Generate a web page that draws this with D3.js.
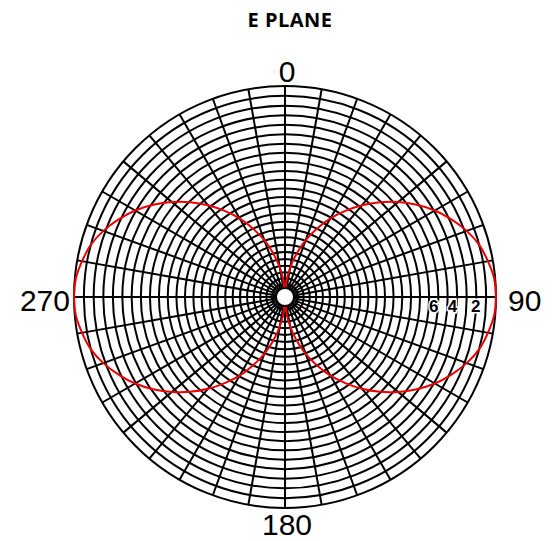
<!DOCTYPE html>
<html>
<head>
<meta charset="utf-8">
<script src="https://cdn.jsdelivr.net/npm/d3@7"></script>
<style>
  html, body { margin: 0; padding: 0; background: #fff; }
  svg { display: block; }
</style>
</head>
<body>
<svg id="chart" width="558" height="541"></svg>
<script>
// ──────────────  data

const TITLE = 'E PLANE';

// compass labels (degrees, clockwise from top)
const compassAngles = [0, 90, 180, 270];
const compassLabels = ['0', '90', '180', '270'];

// grid: rings every 1 dB, spokes every 10°
const ringDb = d3.range(0, -25, -1);
const spokeAngles = d3.range(0, 360, 10);

// scale labels printed along the 90° spoke
const scaleTickDb = [-2, -4, -6];
const scaleTickLabels = ['2', '4', '6'];

// E-plane pattern, relative gain in dB, every 5°
const patternAngles = d3.range(0, 360, 5);
const patternDb = [
  -27, -23.6, -21.2, -19.0, -16.9, -15.0, -13.1, -11.4, -9.7, -8.1,
  -6.6, -5.2, -3.9, -2.8, -1.8, -1.0, -0.5, -0.1,
  0,
  -0.1, -0.5, -1.0, -1.8, -2.8, -3.9, -5.2, -6.6, -8.1, -9.7,
  -11.4, -13.1, -15.0, -16.9, -19.0, -21.2, -23.6,
  -27, -23.6, -21.2, -19.0, -16.9, -15.0, -13.1, -11.4, -9.7, -8.1,
  -6.6, -5.2, -3.9, -2.8, -1.8, -1.0, -0.5, -0.1,
  0,
  -0.1, -0.5, -1.0, -1.8, -2.8, -3.9, -5.2, -6.6, -8.1, -9.7,
  -11.4, -13.1, -15.0, -16.9, -19.0, -21.2, -23.6
];

// ──────────────  layout

const CX = 285, CY = 297, R = 211;
const DB_FLOOR = -27;
const HOLE = 9;

const svg = d3.select('#chart');
const g = svg.append('g').attr('transform', `translate(${CX},${CY})`);

// radial scale: dB -> pixels, mildly compressed toward the centre
const rScale = d3.scalePow().exponent(1.27)
  .domain([0, -DB_FLOOR]).range([0, R]).clamp(true);
const r = db => rScale(db - DB_FLOOR);
const rad = deg => deg * Math.PI / 180;

// ──────────────  grid

g.append('g').attr('class', 'rings')
  .selectAll('circle')
  .data(ringDb)
  .join('circle')
  .attr('r', d => r(d))
  .attr('fill', 'none')
  .attr('stroke', '#000')
  .attr('stroke-width', 2);

g.append('g').attr('class', 'spokes')
  .selectAll('line')
  .data(spokeAngles)
  .join('line')
  .attr('x1', d => HOLE * Math.sin(rad(d)))
  .attr('y1', d => -HOLE * Math.cos(rad(d)))
  .attr('x2', d => r(0) * Math.sin(rad(d)))
  .attr('y2', d => -r(0) * Math.cos(rad(d)))
  .attr('stroke', '#000')
  .attr('stroke-width', 2);

// ──────────────  pattern

const line = d3.lineRadial()
  .angle((d, i) => rad(patternAngles[i]))
  .radius(d => r(d))
  .curve(d3.curveCatmullRomClosed);

g.append('path')
  .datum(patternDb)
  .attr('d', line)
  .attr('fill', 'none')
  .attr('stroke', '#ee0000')
  .attr('stroke-width', 2);

// centre hole
g.append('circle')
  .attr('r', HOLE)
  .attr('fill', '#fff')
  .attr('stroke', '#000')
  .attr('stroke-width', 2);

// ──────────────  labels

g.append('g').attr('class', 'scale-ticks')
  .selectAll('text')
  .data(scaleTickDb)
  .join('text')
  .attr('x', d => r(d) + (d === -2 ? 4 : 0))
  .attr('y', 15)
  .attr('text-anchor', 'end')
  .attr('font-family', 'Liberation Sans, Arial, sans-serif')
  .attr('font-weight', 'bold')
  .attr('font-size', 17)
  .attr('fill', '#000')
  .attr('stroke', '#fff')
  .attr('stroke-width', 3)
  .attr('paint-order', 'stroke')
  .text((d, i) => scaleTickLabels[i]);

const compassPos = {
  0:   { dx: 2,      dy: -R - 4,  anchor: 'middle' },
  90:  { dx: R + 12, dy: 14,      anchor: 'start' },
  180: { dx: 2,      dy: R + 27,  anchor: 'middle' },
  270: { dx: -R - 4, dy: 14,      anchor: 'end' },
};

g.append('g').attr('class', 'compass')
  .selectAll('text')
  .data(compassAngles)
  .join('text')
  .attr('x', d => compassPos[d].dx)
  .attr('y', d => compassPos[d].dy)
  .attr('text-anchor', d => compassPos[d].anchor)
  .attr('font-family', 'Liberation Sans, Arial, sans-serif')
  .attr('font-size', 30)
  .attr('fill', '#000')
  .text((d, i) => compassLabels[i]);

svg.append('text')
  .attr('x', 290)
  .attr('y', 27)
  .attr('text-anchor', 'middle')
  .attr('font-family', 'Open Sans, sans-serif')
  .attr('font-weight', 'bold')
  .attr('font-size', 20)
  .attr('letter-spacing', 0.5)
  .attr('fill', '#000')
  .text(TITLE);
</script>
</body>
</html>
